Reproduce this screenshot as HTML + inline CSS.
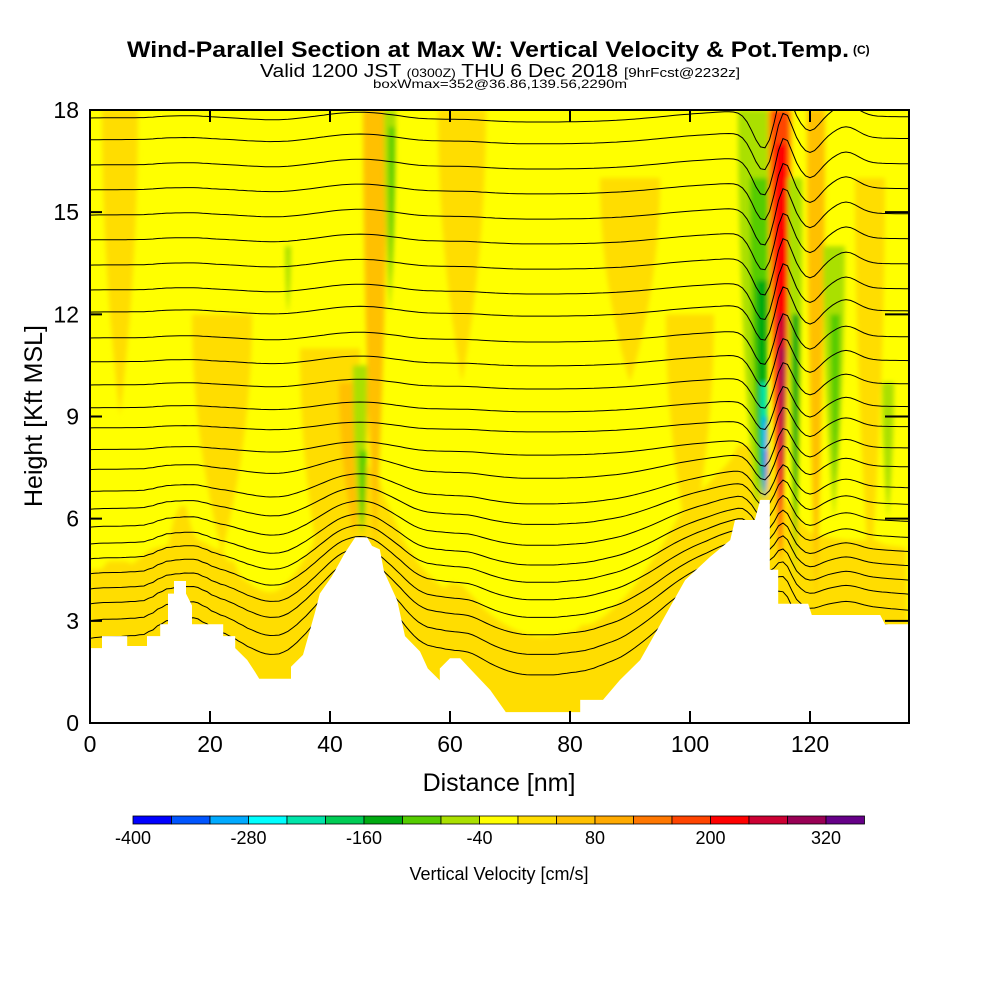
<!DOCTYPE html>
<html><head><meta charset="utf-8">
<style>
html,body{margin:0;padding:0;background:#fff;width:1000px;height:1000px;overflow:hidden}
svg{display:block}
text{font-family:"Liberation Sans",sans-serif}
</style></head><body>
<svg id="chart" width="1000" height="1000" viewBox="0 0 1000 1000">
<defs>
<filter id="blur" x="-20%" y="-20%" width="140%" height="140%"><feGaussianBlur stdDeviation="2.5"/></filter>
<clipPath id="plotclip"><rect x="90" y="110" width="819" height="613"/></clipPath>
</defs>
<g>
<text x="127" y="57" font-size="22" font-weight="bold" textLength="722" lengthAdjust="spacingAndGlyphs">Wind-Parallel Section at Max W: Vertical Velocity &amp; Pot.Temp.</text>
<text x="853" y="54" font-size="12" font-weight="bold">(C)</text>
<text x="260" y="77" font-size="18" textLength="480" lengthAdjust="spacingAndGlyphs">Valid 1200 JST <tspan font-size="12">(0300Z)</tspan> THU 6 Dec 2018 <tspan font-size="13">[9hrFcst@2232z]</tspan></text>
<text x="373" y="88" font-size="12" textLength="254" lengthAdjust="spacingAndGlyphs">boxWmax=352@36.86,139.56,2290m</text>
</g>
<g id="plot" clip-path="url(#plotclip)"></g>
<g id="axes"></g>
<g id="cbar"></g>
<text x="42" y="416" font-size="25" text-anchor="middle" transform="rotate(-90 42 416)">Height [Kft MSL]</text>
<text x="499" y="791" font-size="25" text-anchor="middle">Distance [nm]</text>
<text x="499" y="880" font-size="18" text-anchor="middle">Vertical Velocity [cm/s]</text>
</svg>
<script>
// ---- data ----
const terrainDist = [0,2,2,6.2,6.2,9.5,9.5,11.7,11.7,13,13,14,14,16,16,17,17,22.2,22.2,24.2,24.2,26.2,27.5,28.2,33.5,33.5,35.5,37.5,38.3,40.3,42.5,44.2,46.2,47,48.3,49,51.2,52.5,55,56.3,58.3,58.3,60,61.7,63.3,66.7,69.3,81.7,81.7,85.5,88.3,91.7,95,99.2,103.3,106.7,107.5,110.8,111.7,113.3,113.3,114.7,114.7,119.7,120.3,131.7,132.5,136.5];
const terrainHeight = [2.2,2.2,2.55,2.55,2.26,2.26,2.55,2.55,2.9,2.9,3.8,3.8,4.17,4.17,3.8,3.45,2.9,2.9,2.55,2.55,2.2,1.85,1.5,1.3,1.3,1.65,2.0,3.25,3.8,4.3,5.0,5.45,5.45,5.2,5.1,4.45,3.6,2.55,2.1,1.6,1.25,1.6,1.9,1.9,1.6,0.97,0.32,0.32,0.68,0.68,1.26,1.85,2.88,4.2,4.87,5.37,5.96,5.96,6.55,6.55,4.5,4.5,3.5,3.5,3.17,3.17,2.9,2.9];
const thetaLevels = [2.44,2.96,3.46,3.9,4.35,4.79,5.23,5.73,6.26,6.78,7.43,8.02,8.66,9.25,9.92,10.6,11.3,12.06,12.71,13.44,14.18,14.91,15.65,16.38,17.12,17.76];
const xTicks = [0,20,40,60,80,100,120];
const yTicks = [0,3,6,9,12,15,18];
const cbarColors = ["#0000ff","#0055ff","#00aaff","#00ffff","#00e5aa","#00cc55","#00aa11","#55cc00","#aae000","#ffff00","#ffdd00","#ffc000","#ffaa00","#ff7700","#ff4400","#ff0000","#cc0033","#990055","#660088"];
const cbarLabels = [-400,-280,-160,-40,80,200,320];
// velocity features: [centerDist, topKft, bottomKft, halfWidthNm, colorIndex]
const wFeatures = [
 [5,18,9,3,10],[22,12,5,5,10],[40,11,3,5,10],[44,10,5.5,2.5,11],[47.5,18,5,2,11],[50,18,12,1,8],[50.3,17.5,13,0.5,7],
 [45,10.5,5.5,1.2,8],[45.5,8,5.5,0.6,7],[33,14,12,0.5,8],[62,18,10,4,10],[90,16,10,5,10],[100,12,5,4,10],
 [111,18,6,3,8],[111.5,16,6.5,1.5,7],[112,13,6.5,1.0,6],[112.3,10,6.5,0.6,4],[112.5,9,6.5,0.4,2],[112.6,8,6.6,0.25,0],
 [115,18,4.6,2.0,12],[115,18,4.6,1.5,14],[115.2,17,4.8,1.0,15],[115.3,12,6,0.6,16],[115.4,11,7,0.4,17],
 [117.5,16,4,1.2,8],[117.6,12,5,0.6,6],[121,18,3.5,1.5,11],[124,14,6,1.8,8],[124.2,12,7,0.8,7],[130,16,4,2.5,10],[133,10,6,1,8]
];
// ---- scales ----
const X0=90,X1=909,Y0=723,Y1=110;
const xs = d => X0 + d*6;
const ys = h => Y0 - h*(Y0-Y1)/18;
const NS="http://www.w3.org/2000/svg";
function mk(tag,attrs,parent){const e=document.createElementNS(NS,tag);for(const k in attrs)e.setAttribute(k,attrs[k]);parent.appendChild(e);return e;}
function terrainAt(d){for(let i=1;i<terrainDist.length;i++){if(d<=terrainDist[i]){const a=terrainDist[i-1],b=terrainDist[i];const t=b===a?1:(d-a)/(b-a);return terrainHeight[i-1]+t*(terrainHeight[i]-terrainHeight[i-1]);}}return terrainHeight[terrainHeight.length-1];}
function smoothT(d,w){let s=0,n=0;for(let k=-w;k<=w;k+=0.5){s+=terrainAt(Math.min(136.5,Math.max(0,d+k)));n++;}return s/n;}
const plot=document.getElementById('plot');
const bg=mk('rect',{x:X0,y:Y1,width:X1-X0,height:Y0-Y1,fill:'#ffff00'},plot);


const fg=mk('g',{filter:'url(#blur)'},plot);


let low='';for(let d=0;d<=136.5;d+=1){low+=xs(d)+','+ys(Math.max(terrainAt(d),smoothT(d,6))+2.2)+' ';}
low+=xs(136.5)+','+Y0+' '+xs(0)+','+Y0;
const lowp=mk('polygon',{points:low,fill:'#ffdd00'},fg);


wFeatures.forEach((f,i)=>{
  const [c,top,bot,hw,ci]=f;
  const tl=xs(c-hw),tr=xs(c+hw),cx=xs(c);
  const p=mk('path',{d:`M${tl},${ys(top)} L${tr},${ys(top)} Q${tr},${(ys(top)+ys(bot))/2} ${cx},${ys(bot)} Q${tl},${(ys(top)+ys(bot))/2} ${tl},${ys(top)}Z`,fill:cbarColors[ci]},fg);
  
  
});
const cg=mk('g',{fill:'none',stroke:'#000','stroke-width':1},plot);


const g0=(x,m,s)=>Math.exp(-((x-m)*(x-m))/(2*s*s));
thetaLevels.forEach((b,i)=>{
  const k=Math.max(0.06,0.75-b/12);
  let pts=[];
  for(let d=0;d<=136.5;d+=0.75){
    const amp=Math.min(1.1,0.2+b*0.07);
    let h=b+k*(smoothT(d,4)-2.2)-amp*g0(d,112.3,1.8)+amp*0.8*g0(d,115.5,1.2)-amp*0.4*g0(d,120,1.5)+amp*0.3*g0(d,126,2);
    pts.push(xs(d).toFixed(1)+','+ys(h).toFixed(1));
  }
  const pl=mk('polyline',{points:pts.join(' ')},cg);
  
  
});
let tp='';terrainDist.forEach((d,i)=>{tp+=xs(d)+','+ys(terrainHeight[i])+' ';});
tp+=xs(136.5)+','+(Y0+2)+' '+xs(0)+','+(Y0+2);
const terr=mk('polygon',{points:tp,fill:'#fff'},plot);


const ax=document.getElementById('axes');
const frame=mk('rect',{x:X0,y:Y1,width:X1-X0,height:Y0-Y1,fill:'none',stroke:'#000','stroke-width':2},ax);


xTicks.forEach(v=>{
  const x=xs(v);
  const t=mk('path',{d:`M${x},${Y0} V${Y0-12} M${x},${Y1} V${Y1+12}`,stroke:'#000','stroke-width':2},ax);
  
  
  const l=mk('text',{x:x,y:Y0+29,'font-size':23,'text-anchor':'middle'},ax);
  l.textContent=v;
  
  
});
yTicks.forEach(v=>{
  const y=ys(v);
  const t=mk('path',{d:`M${X0},${y} H${X0+12} M${X1},${y} H${X1-24}`,stroke:'#000','stroke-width':2},ax);
  
  
  const l=mk('text',{x:X0-11,y:y+8,'font-size':23,'text-anchor':'end'},ax);
  l.textContent=v;
  
  
});
const cb=document.getElementById('cbar');
const cx0=133,cw=38.5;
cbarColors.forEach((c,i)=>{
  const r=mk('rect',{x:cx0+i*cw,y:816,width:cw,height:8,fill:c,stroke:'#000','stroke-width':0.8},cb);
  
  
});
cbarLabels.forEach(v=>{
  const x=cx0+(v+400)/40*cw;
  const l=mk('text',{x:x,y:844,'font-size':18,'text-anchor':'middle'},cb);
  l.textContent=v;
  
  
});
</script>
</body></html>
